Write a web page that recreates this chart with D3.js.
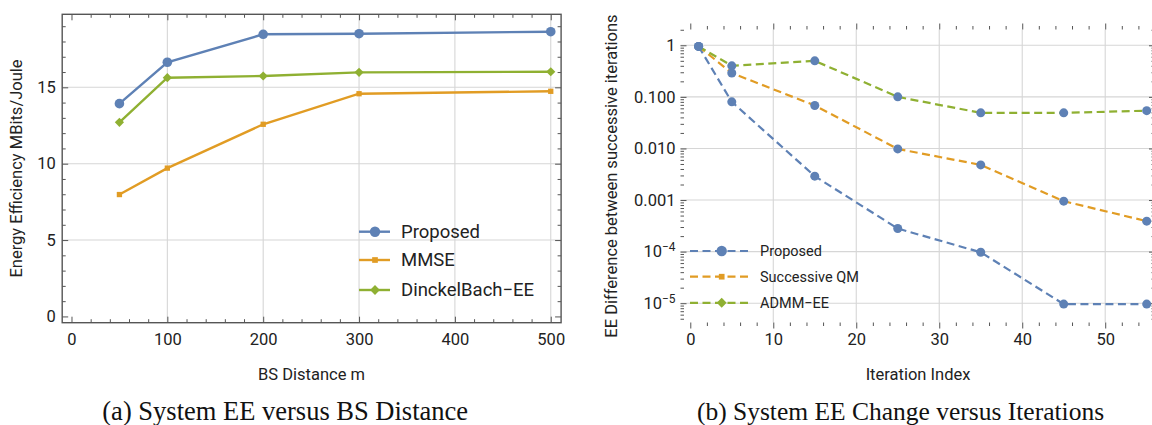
<!DOCTYPE html>
<html>
<head>
<meta charset="utf-8">
<script src="https://cdn.jsdelivr.net/npm/d3@7"></script>
<style>
  body { margin: 0; background: #fff; }
  svg text { font-family: Roboto, "Liberation Sans", sans-serif; fill: #222; }
  svg text.cap { font-family: "Liberation Serif", "Times New Roman", serif; fill: #111; }
</style>
</head>
<body>
<svg id="fig" width="1152" height="425"></svg>
<script>
// (a) EE vs BS distance
var distances    = [50, 100, 200, 300, 500];
var eeProposed   = [13.93, 16.64, 18.47, 18.51, 18.64];
var eeMMSE       = [7.98, 9.71, 12.58, 14.58, 14.74];
var eeDinkelbach = [12.71, 15.63, 15.74, 15.98, 16.02];
var distTicks    = [0, 100, 200, 300, 400, 500];
var eeTicks      = [0, 5, 10, 15];

// (b) EE change vs iterations
var iterations   = [1, 5, 15, 25, 35, 45, 55];
var diffProposed = [0.95, 0.080, 0.0029, 2.8e-4, 9.7e-5, 9.6e-6, 9.6e-6];
var diffSQM      = [0.95, 0.29, 0.068, 0.0098, 0.0048, 9.5e-4, 3.9e-4];
var diffADMM     = [0.95, 0.40, 0.50, 0.10, 0.049, 0.049, 0.054];
var iterTicks    = [0, 10, 20, 30, 40, 50];
var diffTicks    = [1, 0.1, 0.01, 0.001, 1e-4, 1e-5];
var diffLabels   = ['1', '0.100', '0.010', '0.001', '10|4', '10|5'];

var namesA = ['Proposed', 'MMSE', 'DinckelBach\u2212EE'];
var namesB = ['Proposed', 'Successive QM', 'ADMM\u2212EE'];

var blue = '#5E81B5', orange = '#E19C24', green = '#8FB032';
var colors = [blue, orange, green];
var frameCol = '#555';
var svg = d3.select('#fig');

// draw grid + frame + inward ticks on all four sides
function frame(g, x, y, xMaj, xMin, yMaj, yMin, xGrid, yGrid) {
  var x0 = x.range()[0], x1 = x.range()[1], y0 = y.range()[0], y1 = y.range()[1];
  g.append('g').selectAll('line').data(xGrid).enter().append('line')
    .attr('x1', function(d){ return x(d) }).attr('x2', function(d){ return x(d) })
    .attr('y1', y0).attr('y2', y1).attr('stroke', '#d6d6d6').attr('stroke-width', 1.1);
  g.append('g').selectAll('line').data(yGrid).enter().append('line')
    .attr('y1', function(d){ return y(d) }).attr('y2', function(d){ return y(d) })
    .attr('x1', x0).attr('x2', x1).attr('stroke', '#d6d6d6').attr('stroke-width', 1.1);

  var sides = [
    [d3.axisBottom, x, 'translate(0,' + y0 + ')', xMaj, xMin],
    [d3.axisTop,    x, 'translate(0,' + y1 + ')', xMaj, xMin],
    [d3.axisLeft,   y, 'translate(' + x0 + ',0)', yMaj, yMin],
    [d3.axisRight,  y, 'translate(' + x1 + ',0)', yMaj, yMin]
  ];
  sides.forEach(function(s){
    var maj = g.append('g').attr('transform', s[2])
      .call(s[0](s[1]).tickValues(s[3]).tickSize(-6).tickFormat(''));
    var mn = g.append('g').attr('transform', s[2])
      .call(s[0](s[1]).tickValues(s[4]).tickSize(-3.5).tickFormat(''));
    [maj, mn].forEach(function(a){
      a.select('.domain').remove();
      a.selectAll('line').attr('stroke', frameCol).attr('stroke-width', 1);
    });
  });
  g.append('rect').attr('x', x0).attr('y', y1).attr('width', x1 - x0).attr('height', y0 - y1)
    .attr('fill', 'none').attr('stroke', frameCol).attr('stroke-width', 1.4);
}

function marker(sel, kind, color, size) {
  if (kind === 0) {
    return sel.append('circle').attr('r', size).attr('fill', color);
  }
  var sym = d3.symbol().type(d3.symbolSquare).size(kind === 1 ? size * size * 1.6 : size * size * 2.4);
  return sel.append('path').attr('d', sym).attr('fill', color)
    .attr('transform', kind === 2 ? 'rotate(45)' : null);
}

// ---------- panel (a) ----------
var xA = d3.scaleLinear().domain([-9.7, 510.8]).range([62.2, 561.1]);
var yA = d3.scaleLinear().domain([-0.41, 19.78]).range([322.7, 14.3]);
var gA = svg.append('g');
var minorDist = d3.range(0, 501, 20).filter(function(d){ return d % 100 !== 0 });
var minorEE = d3.range(0, 20, 1).filter(function(d){ return d % 5 !== 0 });
frame(gA, xA, yA, distTicks, minorDist, eeTicks, minorEE, distTicks.slice(1), eeTicks.slice(1));

gA.append('g').attr('transform', 'translate(0,322.7)')
  .call(d3.axisBottom(xA).tickValues(distTicks).tickSize(0).tickPadding(10.5))
  .call(function(a){ a.select('.domain').remove() })
  .selectAll('text').attr('font-size', 16.5);
gA.append('g').attr('transform', 'translate(62.2,0)')
  .call(d3.axisLeft(yA).tickValues(eeTicks).tickSize(0).tickPadding(6.5))
  .call(function(a){ a.select('.domain').remove() })
  .selectAll('text').attr('font-size', 16.5);

var seriesA = [eeProposed, eeMMSE, eeDinkelbach];
var lineA = d3.line().x(function(d, i){ return xA(distances[i]) }).y(function(d){ return yA(d) });
seriesA.forEach(function(vals, k){
  gA.append('path').attr('d', lineA(vals)).attr('fill', 'none')
    .attr('stroke', colors[k]).attr('stroke-width', 2.4);
  vals.forEach(function(v, i){
    var m = gA.append('g').attr('transform', 'translate(' + xA(distances[i]) + ',' + yA(v) + ')');
    marker(m, k, colors[k], k === 0 ? 4.8 : 4.2);
  });
});

// legend (a)
var legRowsA = [231.7, 260, 290];
namesA.forEach(function(n, k){
  var g = gA.append('g').attr('transform', 'translate(0,' + legRowsA[k] + ')');
  g.append('line').attr('x1', 359).attr('x2', 390).attr('stroke', colors[k]).attr('stroke-width', 2.4);
  var m = g.append('g').attr('transform', 'translate(375,0)');
  marker(m, k, colors[k], k === 0 ? 5.2 : 4.5);
  g.append('text').attr('x', 401).attr('y', 6).attr('font-size', 18.5).text(n);
});

gA.append('text').attr('x', 311.5).attr('y', 380).attr('text-anchor', 'middle')
  .attr('font-size', 16.5).text('BS Distance m');
gA.append('text').attr('transform', 'translate(21.5,168.5) rotate(-90)').attr('text-anchor', 'middle')
  .attr('font-size', 16.5).text('Energy Efficiency MBits/Joule');

// ---------- panel (b) ----------
var xB = d3.scaleLinear().domain([-1.18, 56.0]).range([680.5, 1155]);
var yB = d3.scaleLog().domain([Math.pow(10, 0.306), Math.pow(10, -5.374)]).range([29.5, 322.5]);
var gB = svg.append('g');
var minorIter = d3.range(0, 57, 2).filter(function(d){ return d % 10 !== 0 });
var minorDiff = [];
[-6, -5, -4, -3, -2, -1, 0].forEach(function(e){
  for (var m = 2; m <= 9; m++) minorDiff.push(m * Math.pow(10, e));
});
minorDiff = minorDiff.filter(function(v){ return v < yB.domain()[0] && v > yB.domain()[1] });
frame(gB, xB, yB, iterTicks, minorIter, diffTicks, minorDiff, iterTicks.slice(1), diffTicks);

gB.append('g').attr('transform', 'translate(0,322.5)')
  .call(d3.axisBottom(xB).tickValues(iterTicks).tickSize(0).tickPadding(10.5))
  .call(function(a){ a.select('.domain').remove() })
  .selectAll('text').attr('font-size', 16.5);
var yAxB = gB.append('g').attr('transform', 'translate(680.5,0)')
  .call(d3.axisLeft(yB).tickValues(diffTicks).tickSize(0).tickPadding(5)
    .tickFormat(function(d, i){ return diffLabels[i] }))
  .call(function(a){ a.select('.domain').remove() });
yAxB.selectAll('text').attr('font-size', 16.5).each(function(d, i){
  var lab = diffLabels[i];
  if (lab.indexOf('|') > 0) {
    var parts = lab.split('|');
    var t = d3.select(this).text(parts[0]);
    t.append('tspan').attr('dy', '-0.5em').attr('font-size', '0.72em').text('\u2212' + parts[1]);
  }
});

var seriesB = [diffProposed, diffSQM, diffADMM];
var lineB = d3.line().x(function(d, i){ return xB(iterations[i]) }).y(function(d){ return yB(d) });
seriesB.forEach(function(vals, k){
  gB.append('path').attr('d', lineB(vals)).attr('fill', 'none')
    .attr('stroke', colors[k]).attr('stroke-width', 2.2).attr('stroke-dasharray', '8,4.5');
});
seriesB.forEach(function(vals){
  gB.selectAll(null).data(vals).enter().append('circle')
    .attr('cx', function(d, i){ return xB(iterations[i]) })
    .attr('cy', function(d){ return yB(d) })
    .attr('r', 4.5).attr('fill', blue);
});

// legend (b)
var legRowsB = [251, 276.7, 302.8];
namesB.forEach(function(n, k){
  var g = gB.append('g').attr('transform', 'translate(0,' + legRowsB[k] + ')');
  g.append('line').attr('x1', 690).attr('x2', 749).attr('stroke', colors[k])
    .attr('stroke-width', 2.2).attr('stroke-dasharray', '8,4.5');
  var m = g.append('g').attr('transform', 'translate(721.7,0)');
  marker(m, k, colors[k], k === 0 ? 5.2 : 4.5);
  g.append('text').attr('x', 760).attr('y', 5.3).attr('font-size', 14.5).text(n);
});

gB.append('text').attr('x', 918).attr('y', 380).attr('text-anchor', 'middle')
  .attr('font-size', 16.5).text('Iteration Index');
gB.append('text').attr('transform', 'translate(617,176) rotate(-90)').attr('text-anchor', 'middle')
  .attr('font-size', 16.5).text('EE Difference between successive iterations');

// captions
svg.append('text').attr('class', 'cap').attr('x', 285.2).attr('y', 420)
  .attr('text-anchor', 'middle').attr('font-size', 26.5).text('(a) System EE versus BS Distance');
svg.append('text').attr('class', 'cap').attr('x', 900.5).attr('y', 420)
  .attr('text-anchor', 'middle').attr('font-size', 25.5).text('(b) System EE Change versus Iterations');
</script>
</body>
</html>
